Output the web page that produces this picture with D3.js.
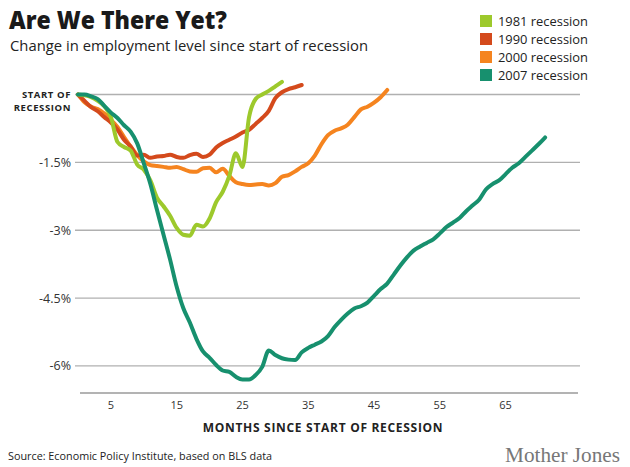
<!DOCTYPE html>
<html><head><meta charset="utf-8">
<script src="https://cdn.jsdelivr.net/npm/d3@7/dist/d3.min.js"></script>
<style>
html,body{margin:0;padding:0;background:#fff;}
svg{display:block;}
</style></head>
<body>
<script>
// ---- data (percent change in employment since start of recession, by month) ----
const series1981 = [0,-0.02,-0.06,-0.14,-0.26,-0.5,-1.05,-1.16,-1.24,-1.55,-1.66,-1.9,-2.28,-2.47,-2.68,-2.95,-3.1,-3.12,-2.88,-2.92,-2.74,-2.38,-2.15,-1.8,-1.3,-1.6,-0.5,-0.1,0.0,0.08,0.18,0.28];
const series1990 = [0,-0.14,-0.28,-0.37,-0.5,-0.62,-0.78,-1.0,-1.15,-1.35,-1.33,-1.4,-1.37,-1.36,-1.33,-1.38,-1.4,-1.34,-1.31,-1.38,-1.33,-1.17,-1.07,-1.0,-0.93,-0.84,-0.78,-0.65,-0.52,-0.36,-0.08,0.05,0.12,0.16,0.21];
const series2000 = [0,-0.17,-0.27,-0.32,-0.42,-0.56,-0.72,-0.94,-1.15,-1.34,-1.48,-1.56,-1.58,-1.6,-1.62,-1.6,-1.65,-1.7,-1.71,-1.63,-1.62,-1.72,-1.64,-1.8,-1.94,-1.98,-2.0,-1.99,-1.98,-2.01,-1.96,-1.82,-1.78,-1.7,-1.6,-1.52,-1.35,-1.1,-0.9,-0.8,-0.75,-0.67,-0.5,-0.33,-0.27,-0.18,-0.06,0.1];
const series2007 = [0,0.0,-0.04,-0.1,-0.25,-0.4,-0.52,-0.68,-0.82,-1.08,-1.52,-1.98,-2.55,-3.1,-3.65,-4.25,-4.72,-5.04,-5.4,-5.68,-5.82,-5.98,-6.1,-6.13,-6.24,-6.3,-6.3,-6.2,-6.02,-5.66,-5.76,-5.83,-5.86,-5.87,-5.7,-5.6,-5.53,-5.46,-5.34,-5.14,-4.98,-4.84,-4.73,-4.68,-4.6,-4.45,-4.3,-4.18,-3.98,-3.78,-3.6,-3.45,-3.36,-3.28,-3.2,-3.07,-2.93,-2.83,-2.73,-2.58,-2.45,-2.32,-2.1,-1.98,-1.9,-1.76,-1.62,-1.52,-1.38,-1.24,-1.1,-0.95];

const seriesNames = ["1981 recession","1990 recession","2000 recession","2007 recession"];
const seriesColors = ["#9dc92c","#d44a1c","#f5841f","#17906e"];
const xTicks = [5,15,25,35,45,55,65];
const yTicks = [0,-1.5,-3,-4.5,-6];
const yTickLabels = ["START OF RECESSION","-1.5%","-3%","-4.5%","-6%"];

const allSeries = [series1981, series1990, series2000, series2007];

// ---- layout ----
const W = 630, H = 467;
const svg = d3.select("body").append("svg").attr("width", W).attr("height", H);

const x = d3.scaleLinear().domain([0, 76]).range([78, 578]);
const y = d3.scaleLinear().domain([-6.62, 0]).range([394, 94.5]);

// title
svg.append("text").attr("x", 9).attr("y", 29)
  .attr("font-family", "'Open Sans', sans-serif").attr("font-weight", 800)
  .attr("font-size", 24.5).attr("fill", "#1a1a1a")
  .attr("textLength", 218).attr("lengthAdjust", "spacingAndGlyphs")
  .text("Are We There Yet?");
svg.append("text").attr("x", 10).attr("y", 51)
  .attr("font-family", "'Open Sans', sans-serif")
  .attr("font-size", 14).attr("fill", "#222")
  .attr("textLength", 358).attr("lengthAdjust", "spacingAndGlyphs")
  .text("Change in employment level since start of recession");

// gridlines
svg.append("g").selectAll("line").data(yTicks).join("line")
  .attr("x1", 75).attr("x2", 580)
  .attr("y1", d => y(d)).attr("y2", d => y(d))
  .attr("stroke", "#b0b0b0").attr("stroke-width", 1.3);

// y labels
const yl = svg.append("g");
yTicks.forEach((t, i) => {
  if (i === 0) {
    const tx = yl.append("text").attr("text-anchor", "end")
      .attr("font-family", "'Open Sans', sans-serif").attr("font-weight", 700)
      .attr("font-size", 9.5).attr("fill", "#222").attr("letter-spacing", 0.6);
    const parts = yTickLabels[0].split(" ");
    tx.append("tspan").attr("x", 71).attr("y", y(t) + 3.5).text(parts[0] + " " + parts[1]);
    tx.append("tspan").attr("x", 71).attr("y", y(t) + 16.5).text(parts[2]);
  } else {
    yl.append("text").attr("text-anchor", "end")
      .attr("x", 71).attr("y", y(t) + 4.5)
      .attr("font-family", "'Open Sans', sans-serif")
      .attr("font-size", 12.5).attr("fill", "#333").text(yTickLabels[i]);
  }
});

// x axis line
svg.append("line").attr("x1", 80).attr("x2", 578).attr("y1", 393).attr("y2", 393)
  .attr("stroke", "#b3b3b3").attr("stroke-width", 2);

// x ticks
svg.append("g").selectAll("text").data(xTicks).join("text")
  .attr("x", d => x(d)).attr("y", 409).attr("text-anchor", "middle")
  .attr("font-family", "'Liberation Sans Narrow', 'Open Sans', sans-serif")
  .attr("font-size", 11).attr("fill", "#333").text(d => d);

svg.append("text").attr("x", 323).attr("y", 432).attr("text-anchor", "middle")
  .attr("font-family", "'Open Sans', sans-serif").attr("font-weight", 700)
  .attr("font-size", 12).attr("fill", "#222").attr("letter-spacing", 0.7)
  .text("MONTHS SINCE START OF RECESSION");

// lines
const line = d3.line().x((d, i) => x(i)).y(d => y(d)).curve(d3.curveMonotoneX);
const order = [2, 1, 0, 3];
svg.append("g").selectAll("path").data(order).join("path")
  .attr("d", k => line(allSeries[k]))
  .attr("fill", "none").attr("stroke", k => seriesColors[k])
  .attr("stroke-width", 4).attr("stroke-linejoin", "round").attr("stroke-linecap", "round");

// legend
const lg = svg.append("g");
seriesNames.forEach((n, i) => {
  const cy = 21 + i * 18;
  lg.append("rect").attr("x", 480).attr("y", cy - 6).attr("width", 12).attr("height", 12)
    .attr("fill", seriesColors[i]);
  lg.append("text").attr("x", 498).attr("y", cy + 4.5)
    .attr("font-family", "'Open Sans', sans-serif").attr("font-size", 13).attr("fill", "#222")
    .attr("textLength", 90).attr("lengthAdjust", "spacingAndGlyphs")
    .text(n);
});

// footer
svg.append("text").attr("x", 8).attr("y", 460)
  .attr("font-family", "'Open Sans', sans-serif").attr("font-size", 11).attr("fill", "#222")
  .attr("textLength", 264).attr("lengthAdjust", "spacingAndGlyphs")
  .text("Source: Economic Policy Institute, based on BLS data");
svg.append("text").attr("x", 620).attr("y", 462).attr("text-anchor", "end")
  .attr("font-family", "'Liberation Serif', serif").attr("font-size", 21).attr("fill", "#777")
  .attr("textLength", 115).attr("lengthAdjust", "spacingAndGlyphs")
  .text("Mother Jones");
</script>
</body></html>
